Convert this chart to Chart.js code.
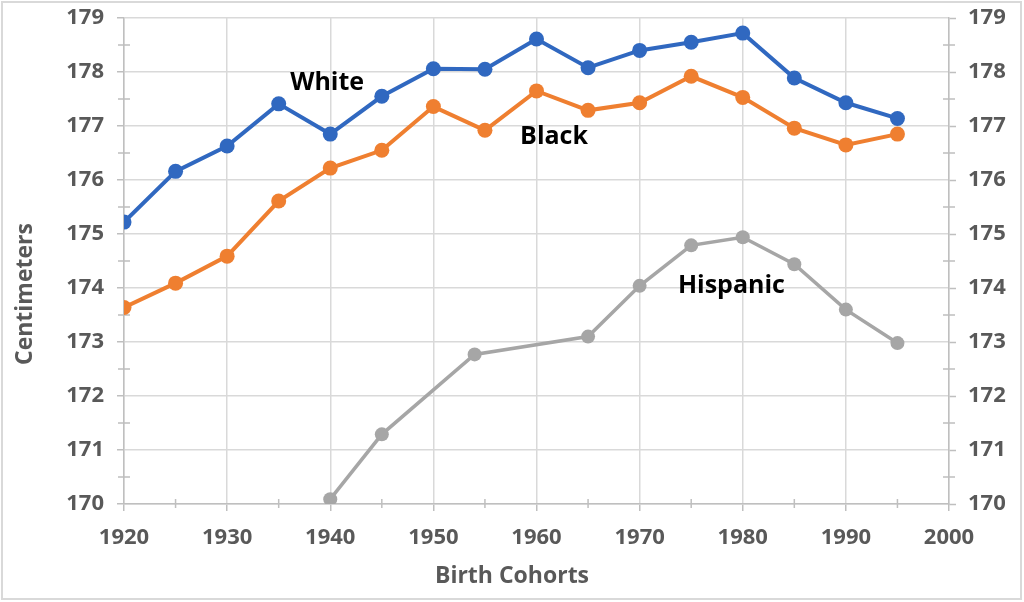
<!DOCTYPE html>
<html>
<head>
<meta charset="utf-8">
<script src="https://cdn.jsdelivr.net/npm/chart.js@4.4.1/dist/chart.umd.min.js"></script>
<style>
html,body{margin:0;padding:0;background:#fff;}
#wrap{position:relative;width:1024px;height:602px;}
</style>
</head>
<body>
<div id="wrap"><canvas id="c" width="1024" height="602"></canvas></div>
<script>
// ---- data ----
const cohortYears = [1920,1925,1930,1935,1940,1945,1950,1955,1960,1965,1970,1975,1980,1985,1990,1995];
const whiteHeights = [175.22,176.16,176.63,177.41,176.85,177.55,178.06,178.05,178.61,178.08,178.40,178.55,178.72,177.89,177.43,177.14];
const blackHeights = [173.64,174.09,174.59,175.61,176.22,176.55,177.36,176.92,177.65,177.29,177.43,177.92,177.53,176.96,176.65,176.85];
const hispanicYears = [1940,1945,1954,1965,1970,1975,1980,1985,1990,1995];
const hispanicHeights = [170.09,171.29,172.77,173.10,174.04,174.79,174.94,174.44,173.60,172.98];
const seriesNames = ['White','Black','Hispanic'];
const labelX = [1939.7,1961.7,1978.9];
const labelY = [177.8,176.8,174.04];
const xTitle = 'Birth Cohorts';
const yTitle = 'Centimeters';

const toPts = (xs, ys) => xs.map((x,i)=>({x:x, y:ys[i]}));
const FONT = '"Open Sans", "Noto Sans", sans-serif';
const AX = '#bfbfbf', GRID = '#d9d9d9', TXT = '#595959';

const extras = {
  id:'extras',
  beforeDraw(chart){
    const ctx = chart.ctx;
    ctx.save();
    ctx.fillStyle='#fff'; ctx.fillRect(0,0,chart.width,chart.height);
    ctx.strokeStyle='#d9d9d9'; ctx.lineWidth=2;
    ctx.strokeRect(2,2,chart.width-5,chart.height-5);
    ctx.restore();
  },
  beforeDatasetsDraw(chart){
    const ctx = chart.ctx, xs = chart.scales.x, yl = chart.scales.y, yr = chart.scales.y2;
    ctx.save();
    ctx.strokeStyle = AX; ctx.lineWidth = 1.5;
    ctx.beginPath();
    for (let v = 1925; v < 2000; v += 10) {
      const px = xs.getPixelForValue(v);
      ctx.moveTo(px, xs.top - 5); ctx.lineTo(px, xs.top + 4);
    }
    for (let v = 170.5; v < 179; v += 1) {
      const py = yl.getPixelForValue(v);
      ctx.moveTo(yl.right - 6, py); ctx.lineTo(yl.right + 6, py);
      ctx.moveTo(yr.left - 6, py); ctx.lineTo(yr.left + 6, py);
    }
    ctx.stroke();
    // axis titles, centred on the whole chart like the original
    ctx.fillStyle = TXT;
    ctx.font = 'bold 23px ' + FONT;
    ctx.textAlign = 'center'; ctx.textBaseline = 'middle';
    ctx.fillText(xTitle, chart.width / 2, 576);
    ctx.translate(25, 294);
    ctx.rotate(-Math.PI / 2);
    ctx.fillText(yTitle, 0, 0);
    ctx.restore();
  },
  afterDatasetsDraw(chart){
    const ctx = chart.ctx, xs = chart.scales.x, ys = chart.scales.y;
    ctx.save();
    ctx.fillStyle = '#000';
    ctx.font = 'bold 25px ' + FONT;
    ctx.textAlign = 'center'; ctx.textBaseline = 'middle';
    seriesNames.forEach((n,i)=>{
      ctx.fillText(n, xs.getPixelForValue(labelX[i]), ys.getPixelForValue(labelY[i]));
    });
    ctx.restore();
  }
};

const tickFont = {family: FONT, size: 22, weight: 'bold'};
const noPad = s => { s.paddingTop = 0; s.paddingBottom = 0; };

new Chart(document.getElementById('c'), {
  type: 'line',
  data: {
    datasets: [
      {label:'White', data: toPts(cohortYears, whiteHeights), borderColor:'#3068c0', backgroundColor:'#3068c0', borderWidth:4, pointRadius:7.5, pointBorderWidth:0, yAxisID:'y'},
      {label:'Black', data: toPts(cohortYears, blackHeights), borderColor:'#ef7f30', backgroundColor:'#ef7f30', borderWidth:4, pointRadius:7.5, pointBorderWidth:0, yAxisID:'y'},
      {label:'Hispanic', data: toPts(hispanicYears, hispanicHeights), borderColor:'#a6a6a6', backgroundColor:'#a6a6a6', borderWidth:3.5, pointRadius:7, pointBorderWidth:0, yAxisID:'y'}
    ]
  },
  options: {
    responsive: false,
    animation: false,
    devicePixelRatio: 1,
    layout: {padding: {top: 18, left: 0, right: 0, bottom: 0}},
    plugins: {legend: {display:false}, tooltip: {enabled:false}},
    scales: {
      x: {
        type: 'linear', min: 1920, max: 2000,
        ticks: {stepSize: 10, color: TXT, font: tickFont, padding: 14, maxRotation: 0,
                callback: v => String(v)},
        grid: {color: GRID, lineWidth: 1.5, tickLength: 7, tickColor: AX, tickWidth: 1.5},
        border: {color: AX, width: 1.5},
        afterFit: s => { s.height = 98; }
      },
      y: {
        position: 'left', min: 170, max: 179,
        ticks: {stepSize: 1, color: TXT, font: tickFont, padding: 13},
        grid: {color: GRID, lineWidth: 1.5, tickLength: 7, tickColor: AX, tickWidth: 1.5},
        border: {color: AX, width: 1.5},
        afterFit: s => { s.width = 124; noPad(s); }
      },
      y2: {
        position: 'right', min: 170, max: 179, display: true,
        ticks: {stepSize: 1, color: TXT, font: tickFont, padding: 12},
        grid: {drawOnChartArea: false, tickLength: 7, tickColor: AX, tickWidth: 1.5},
        border: {color: AX, width: 1.5},
        afterFit: s => { s.width = 75; noPad(s); }
      }
    }
  },
  plugins: [extras]
});
</script>
</body>
</html>
